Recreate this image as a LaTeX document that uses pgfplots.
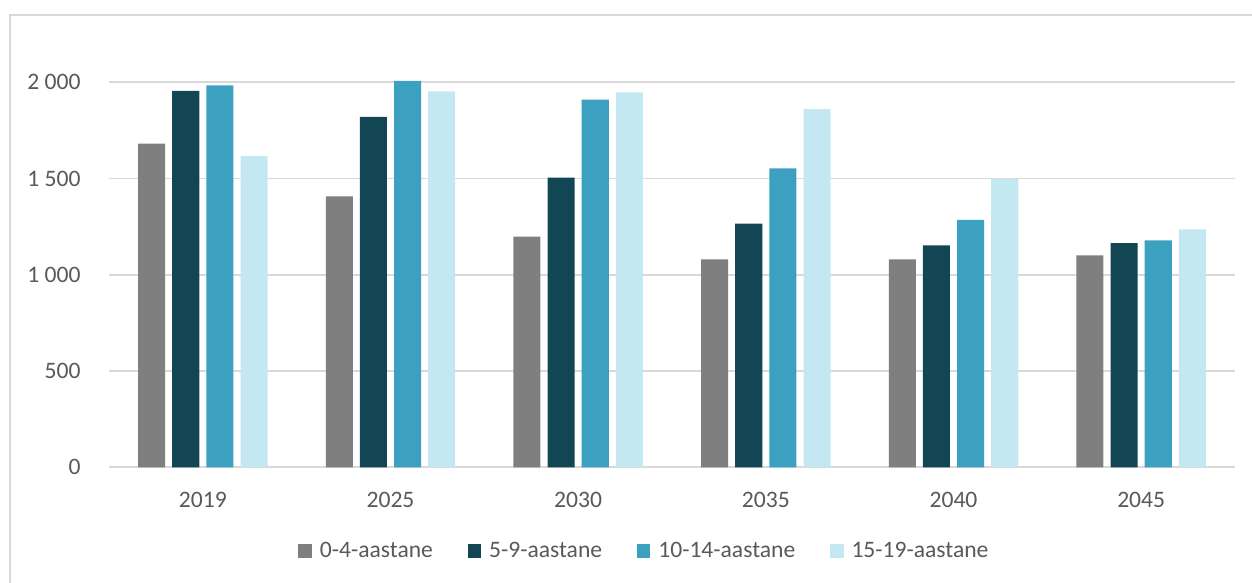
\documentclass[border=0pt]{standalone}
\usepackage{fontspec}
\setmainfont{Carlito}
\usepackage{pgfplots}
\pgfplotsset{compat=1.18}
\definecolor{cgray}{HTML}{7F7F7F}
\definecolor{cdark}{HTML}{134654}
\definecolor{cteal}{HTML}{3CA1C0}
\definecolor{clight}{HTML}{C3E8F2}
\definecolor{gridgray}{HTML}{D9D9D9}
\definecolor{textgray}{HTML}{595959}
\newcommand{\chartfont}{\fontsize{11.8pt}{14pt}\selectfont}
\begin{document}
\begin{tikzpicture}[x=0.5pt,y=0.5pt]
\useasboundingbox (0,0) rectangle (1252,583);
\begin{scope}
\clip (0,0) rectangle (1252,583);
\draw[gridgray, line width=0.8pt] (10,-20) rectangle (1270,568);
\end{scope}
\begin{axis}[
  at={(54.5pt,57.85pt)}, anchor=south west,
  scale only axis, width=563pt, height=211.75pt,
  xmin=-0.5, xmax=5.5, ymin=0, ymax=2200,
  xtick={0,1,2,3,4,5},
  xticklabels={2019,2025,2030,2035,2040,2045},
  ytick={0,500,1000,1500,2000},
  yticklabels={0,500,1 000,1 500,2 000},
  axis line style={draw=none},
  major tick length=0pt,
  ymajorgrids, grid style={gridgray, line width=0.8pt},
  every tick label/.append style={text=textgray, font=\chartfont, inner sep=0pt},
  yticklabel style={anchor=east, xshift=-14pt},
  xticklabel style={anchor=north, yshift=-12pt},
  legend columns=4,
  legend cell align=left,
  legend style={at={(0.4746,-0.1976)}, anchor=center, draw=none, fill=none,
    font=\chartfont, text=textgray, nodes={inner sep=0pt, anchor=west},
    /tikz/every odd column/.append style={column sep=4pt},
    /tikz/every even column/.append style={column sep=17.3pt}},
  legend image code/.code={\fill[#1] (0pt,-3.4pt) rectangle (6.8pt,3.4pt);},
]
\addplot[ybar, bar width=0.144, bar shift=-0.273, fill=cgray, draw=none]
  coordinates {(0,1681) (1,1408) (2,1198) (3,1080) (4,1080) (5,1101)};
\addlegendentry{0-4-aastane}
\addplot[ybar, bar width=0.144, bar shift=-0.091, fill=cdark, draw=none]
  coordinates {(0,1955) (1,1821) (2,1505) (3,1266) (4,1153) (5,1164)};
\addlegendentry{5-9-aastane}
\addplot[ybar, bar width=0.144, bar shift=0.091, fill=cteal, draw=none]
  coordinates {(0,1984) (1,2008) (2,1910) (3,1553) (4,1285) (5,1179)};
\addlegendentry{10-14-aastane}
\addplot[ybar, bar width=0.144, bar shift=0.273, fill=clight, draw=none]
  coordinates {(0,1616) (1,1953) (2,1948) (3,1861) (4,1498) (5,1236)};
\addlegendentry{15-19-aastane}
\end{axis}
\end{tikzpicture}
\end{document}
